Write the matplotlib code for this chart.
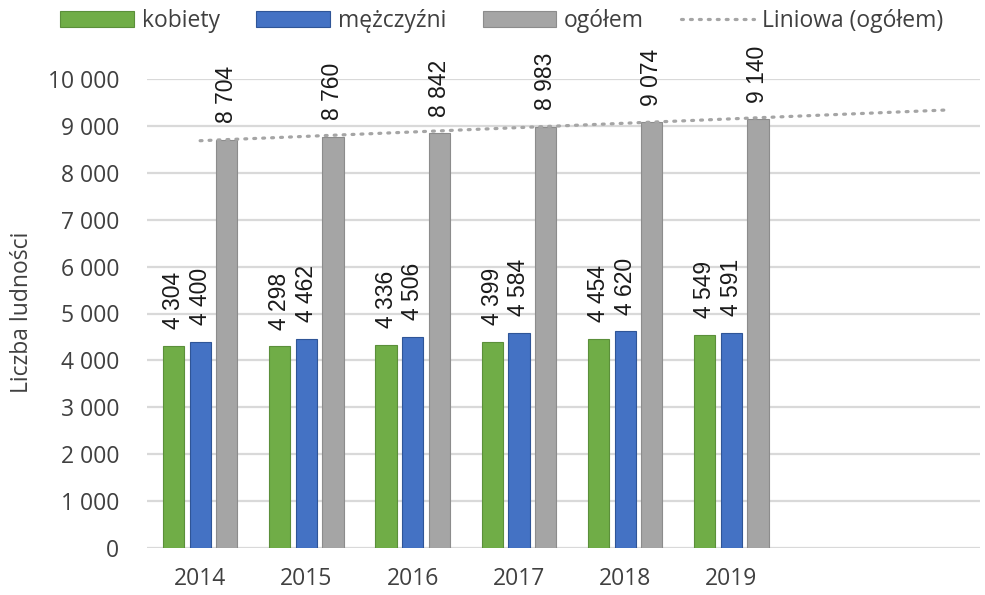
"""Liczba ludności 2014-2019: kobiety, mężczyźni, ogółem z linią trendu."""
import matplotlib
matplotlib.use("Agg")
import matplotlib.pyplot as plt
import numpy as np

years = ["2014", "2015", "2016", "2017", "2018", "2019"]
kobiety = [4304, 4298, 4336, 4399, 4454, 4549]
mezczyzni = [4400, 4462, 4506, 4584, 4620, 4591]
ogolem = [8704, 8760, 8842, 8983, 9074, 9140]
y_ticks = list(range(0, 10001, 1000))
forecast_forward = 2

UI_FONT = ["Open Sans", "DejaVu Sans"]
LABEL_FONT = ["Liberation Sans", "DejaVu Sans"]
TEXT = "#404040"


def fmt(v):
    return f"{v:,}".replace(",", " ")


fig = plt.figure(figsize=(9.85, 5.95), dpi=100)
ax = fig.add_axes([147 / 985, 1 - 548 / 595, (980 - 147) / 985, (548 - 79) / 595])

x = np.arange(1, len(years) + 1)
series = [
    ("kobiety", kobiety, "#70AD47", "#5B8F3A", -0.25),
    ("mężczyźni", mezczyzni, "#4472C4", "#2F5597", 0.0),
    ("ogółem", ogolem, "#A5A5A5", "#8C8C8C", 0.25),
]
handles = []
for name, vals, color, edge, off in series:
    bars = ax.bar(x + off, vals, width=0.2, color=color, edgecolor=edge,
                  linewidth=0.8, label=name, zorder=3)
    handles.append(bars)
    for xi, v in zip(x + off, vals):
        ax.annotate(fmt(v), (xi, v), xytext=(0, 12), textcoords="offset points",
                    rotation=90, ha="center", va="bottom", fontsize=16.5,
                    family=LABEL_FONT, color="#1a1a1a", annotation_clip=False)

# linear trendline, forecast 2 periods forward (like Excel)
coef = np.polyfit(x, ogolem, 1)
xt = np.array([1, len(years) + forecast_forward])
trend, = ax.plot(xt, np.polyval(coef, xt), color="#A5A5A5", linewidth=2.3,
                 linestyle=(0, (0.6, 2.2)), dash_capstyle="round", zorder=4,
                 label="Liniowa (ogółem)")
handles.append(trend)

ax.set_xlim(0.5, len(years) + forecast_forward + 0.34)
ax.set_ylim(0, 10000)
ax.set_yticks(y_ticks)
ax.set_yticklabels([fmt(t) for t in y_ticks], family=UI_FONT, fontsize=16.5, color=TEXT)
ax.set_xticks(x)
ax.set_xticklabels(years, family=UI_FONT, fontsize=16.5, color=TEXT)
ax.tick_params(axis="y", length=0, pad=20)
ax.tick_params(axis="x", length=0, pad=14)
ax.grid(axis="y", color="#D9D9D9", linewidth=1.6, zorder=0)
for s in ax.spines.values():
    s.set_visible(False)

fig.text(22 / 985, 1 - 312 / 595, "Liczba ludności", rotation=90, ha="center",
         va="center", family=UI_FONT, fontsize=16.5, color=TEXT)

fig.legend(handles=handles, loc="center", bbox_to_anchor=(502 / 985, 1 - 21 / 595),
           ncol=4, frameon=False, prop={"family": UI_FONT, "size": 16.5},
           labelcolor=TEXT, handlelength=3.2, handleheight=0.68,
           handletextpad=0.35, columnspacing=1.6, borderpad=0, borderaxespad=0)

fig.savefig("out.png", dpi=100, facecolor="white")
